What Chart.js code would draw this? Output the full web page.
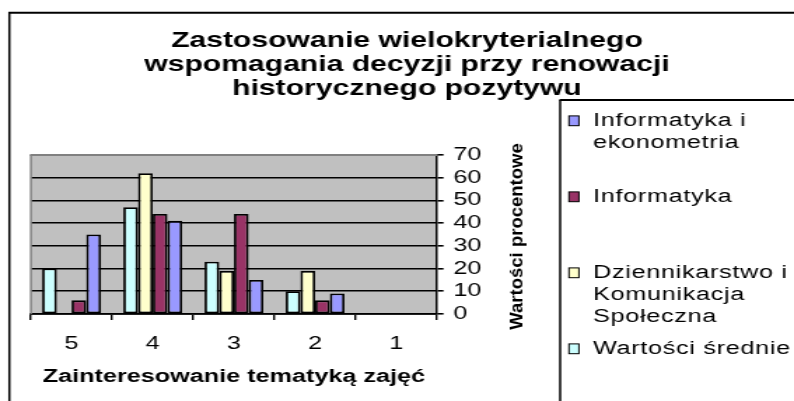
<!DOCTYPE html>
<html>
<head>
<meta charset="utf-8">
<script src="https://cdn.jsdelivr.net/npm/chart.js"></script>
<style>
  body { margin: 0; background: #fff; }
</style>
</head>
<body>
<!-- drawn narrow and stretched sideways, like the original picture -->
<canvas id="graph" width="567" height="401" style="width:794px;height:401px;display:block"></canvas>
<script>
let categories = ['5', '4', '3', '2', '1'];

let sredniaValues = [20, 47, 23, 10, 0];
let dziennikarstwoValues = [0, 62, 19, 19, 0];
let informatykaValues = [6, 44, 44, 6, 0];
let ekonometriaValues = [35, 41, 15, 9, 0];

let sredniaLabel = ['Wartości średnie'];
let dziennikarstwoLabel = ['Dziennikarstwo i', 'Komunikacja', 'Społeczna'];
let informatykaLabel = ['Informatyka'];
let ekonometriaLabel = ['Informatyka i', 'ekonometria'];

let yMin = 0;
let yMax = 70;
let yStep = 10;

let titleLines = ['Zastosowanie wielokryterialnego', 'wspomagania decyzji przy renowacji', 'historycznego pozytywu'];
let xTitle = 'Zainteresowanie tematyką zajęć';
let yTitle = 'Wartości procentowe';

const K = 794 / 567;
const FONT = '"Liberation Sans", Arial, sans-serif';

Chart.defaults.font.family = FONT;
Chart.defaults.color = '#000';

function line(ctx, x1, y1, x2, y2) {
  ctx.beginPath();
  ctx.moveTo(x1, y1);
  ctx.lineTo(x2, y2);
  ctx.stroke();
}

let decor = {
  id: 'decor',
  beforeDraw(chart) {
    let ctx = chart.ctx, a = chart.chartArea;
    ctx.save();
    ctx.fillStyle = '#c0c0c0';
    ctx.fillRect(a.left, a.top, a.right - a.left, a.bottom - a.top);
    ctx.restore();
  },
  beforeDatasetsDraw(chart) {
    let ctx = chart.ctx, a = chart.chartArea;
    ctx.save();
    ctx.strokeStyle = '#808080';
    ctx.lineWidth = 2;
    line(ctx, a.left - 0.7, a.top, a.right, a.top);
    ctx.lineWidth = 1.5;
    line(ctx, a.left, a.top, a.left, a.bottom);
    ctx.restore();
  },
  afterDraw(chart) {
    let ctx = chart.ctx;
    ctx.save();
    ctx.strokeStyle = '#000';

    // outer frame
    ctx.lineWidth = 1.5;
    line(ctx, 6.7, 12, 6.7, 420);
    ctx.lineWidth = 2;
    line(ctx, 6, 12.7, 600, 12.7);

    // legend frame
    ctx.lineWidth = 1.5;
    line(ctx, 400, 100, 400, 420);
    ctx.lineWidth = 2;
    line(ctx, 399.5, 100, 600, 100);

    // chart title
    ctx.fillStyle = '#000';
    ctx.font = 'bold 21.5px ' + FONT;
    ctx.textAlign = 'center';
    ctx.textBaseline = 'alphabetic';
    let base = [46.5, 71, 95];
    titleLines.forEach((t, i) => ctx.fillText(t, 290.6, base[i]));

    // legend, last series on top
    ctx.font = '18px ' + FONT;
    ctx.letterSpacing = '0.5px';
    ctx.textAlign = 'left';
    ctx.textBaseline = 'middle';
    let items = chart.data.datasets.slice().reverse();
    items.forEach((ds, i) => {
      let y = 120.8 + i * 76;
      ctx.fillStyle = ds.backgroundColor;
      ctx.fillRect(406.3, y - 4.9, 7.1, 9.8);
      ctx.lineWidth = 1;
      ctx.strokeRect(406.3, y - 4.9, 7.1, 9.8);
      ctx.fillStyle = '#000';
      ds.legendLines.forEach((t, j) => ctx.fillText(t, 423.4, y + j * 22));
    });
    ctx.letterSpacing = '0px';

    // value axis title, upright letters, reading upwards
    ctx.translate(369, 236.5);
    ctx.scale(1 / K, 1);
    ctx.rotate(-Math.PI / 2);
    ctx.font = 'bold 18.5px ' + FONT;
    ctx.textAlign = 'center';
    ctx.textBaseline = 'middle';
    ctx.fillText(yTitle, 0, 0);
    ctx.restore();
  }
};

function makeSeries(lines, data, color) {
  return {
    label: lines.join(' '),
    legendLines: lines,
    data: data,
    backgroundColor: color,
    borderColor: '#000',
    borderWidth: 1.8,
    borderSkipped: false,
    barPercentage: 1,
    categoryPercentage: 0.724
  };
}

let canvas = document.getElementById('graph');
let ctx = canvas.getContext('2d');

let graph = new Chart(ctx, {
  type: 'bar',
  data: {
    labels: categories,
    datasets: [
      makeSeries(sredniaLabel, sredniaValues, '#ccffff'),
      makeSeries(dziennikarstwoLabel, dziennikarstwoValues, '#ffffcc'),
      makeSeries(informatykaLabel, informatykaValues, '#993366'),
      makeSeries(ekonometriaLabel, ekonometriaValues, '#9999ff')
    ]
  },
  options: {
    responsive: false,
    animation: false,
    devicePixelRatio: 1,
    layout: {
      autoPadding: false,
      padding: { left: 22.1, top: 155, right: 195, bottom: 0 }
    },
    plugins: {
      legend: { display: false },
      title: { display: false },
      tooltip: { enabled: false }
    },
    scales: {
      x: {
        ticks: { color: '#000', font: { size: 18 }, padding: 13 },
        grid: { display: true, drawOnChartArea: false, color: '#000', lineWidth: 1.4, tickLength: 6, offset: true },
        border: { color: '#000', width: 1.8 },
        title: { display: true, text: xTitle, color: '#000', font: { size: 18, weight: 'bold' }, padding: { top: 0, bottom: 13.4 } },
        afterFit(scale) { scale.height = 87; }
      },
      y: {
        position: 'right',
        min: yMin,
        max: yMax,
        ticks: { stepSize: yStep, autoSkip: false, color: '#000', font: { size: 18 }, padding: 7 },
        grid: { color: '#000', lineWidth: 1.6, tickLength: 4.7 },
        border: { color: '#000', width: 1.5 },
        afterFit(scale) { scale.width = 60; }
      }
    }
  },
  plugins: [decor]
});
</script>
</body>
</html>
